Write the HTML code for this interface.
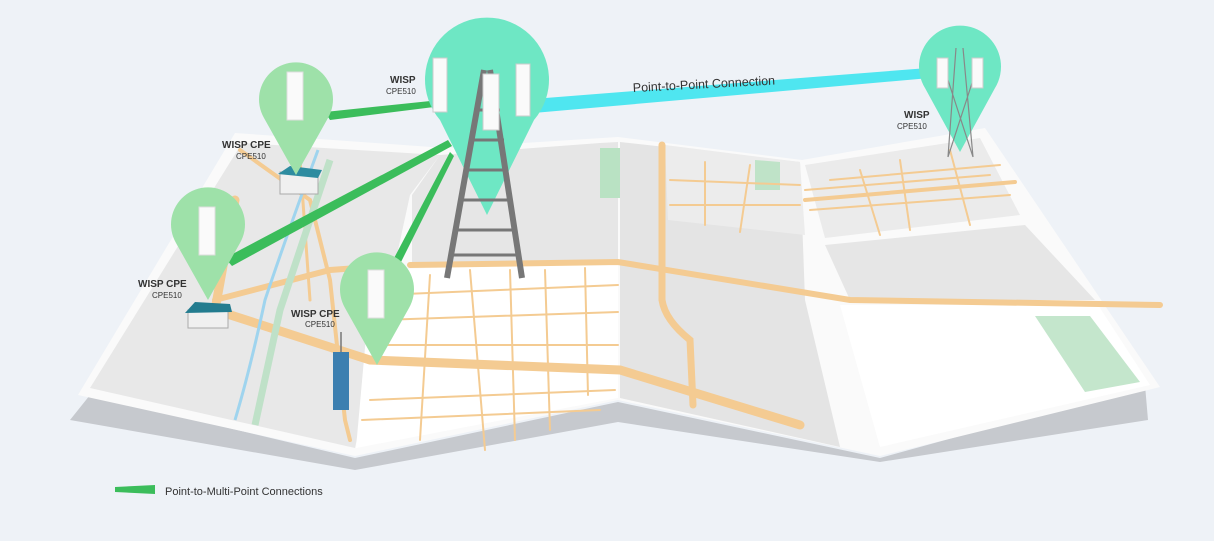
<!DOCTYPE html>
<html><head><meta charset="utf-8"><style>
html,body{margin:0;padding:0;background:#eef2f7;}
svg{display:block;font-family:"Liberation Sans",sans-serif;}
</style></head><body>
<svg width="1214" height="541" viewBox="0 0 1214 541" xmlns="http://www.w3.org/2000/svg">
<rect width="1214" height="541" fill="#eef2f7"/>
<!-- shadow -->
<polygon points="70,420 90,395 355,458 618,402 880,458 1145,385 1148,420 880,462 618,422 355,470" fill="#c6c9ce"/>
<!-- outer white map -->
<polygon points="78,395 235,133 445,148 618,137 802,160 985,128 1160,387 880,456 618,400 355,456" fill="#fafafa"/>
<!-- left panel gray -->
<polygon points="90,388 242,143 440,155 410,195 355,448" fill="#e8e8e8"/>
<!-- middle upper gray -->
<polygon points="412,195 440,155 600,143 618,142 618,262 412,262" fill="#e6e6e6"/>
<polygon points="600,148 650,148 650,198 600,198" fill="#b9e2c3"/>
<!-- middle lower white -->
<polygon points="372,270 618,262 618,398 356,448" fill="#ffffff"/>
<!-- center fold panel gray -->
<polygon points="620,142 800,162 805,300 840,447 620,398" fill="#e4e4e4"/>
<polygon points="665,145 800,162 805,235 668,220" fill="#ececec"/>
<polygon points="755,160 780,162 780,190 755,190" fill="#bfe3c8"/>
<!-- right upper -->
<polygon points="805,165 980,138 1020,215 825,238" fill="#ebebeb"/>
<polygon points="825,245 1025,225 1095,300 850,300" fill="#e6e6e6"/>
<!-- right bottom white -->
<polygon points="840,305 1098,305 1150,385 880,447" fill="#ffffff"/>
<polygon points="1035,316 1090,316 1140,382 1085,392" fill="#c4e6cc"/>
<!-- roads -->
<g fill="none" stroke="#f4cb92" stroke-linecap="round">
<path d="M235,200 L215,310 L370,360 L620,370 L800,425" stroke-width="9"/>
<path d="M240,150 L310,200 L330,280 L345,420 L350,440" stroke-width="4"/>
<path d="M300,160 L310,300" stroke-width="3"/>
<path d="M410,265 L618,262 L850,300 L1160,305" stroke-width="6"/>
<path d="M662,145 L662,300 Q665,320 690,340 L693,405" stroke-width="7"/>
<path d="M215,300 L330,270 L400,265" stroke-width="6"/>
<g stroke-width="2">
<path d="M380,295 L618,285 M380,320 L618,312 M370,345 L618,345 M370,400 L615,390 M362,420 L600,410"/>
<path d="M470,270 L485,450 M545,270 L550,430 M585,268 L588,395 M430,275 L420,440 M510,270 L515,440"/>
<path d="M670,180 L800,185 M670,205 L800,205 M705,162 L705,225 M750,165 L740,232 M805,190 L990,175 M810,210 L1010,195 M860,170 L880,235 M900,160 L910,230 M950,150 L970,225 M830,180 L1000,165"/>
</g>
<path d="M805,200 L1015,182" stroke-width="4"/>
</g>
<!-- river/green strips -->
<path d="M318,150 Q285,240 265,300 Q250,370 235,420" stroke="#9fd4ee" stroke-width="3" fill="none"/>
<path d="M330,160 Q300,250 280,310 Q265,380 255,425" stroke="#bfe1c8" stroke-width="7" fill="none"/>
<!-- buildings -->
<rect x="280" y="172" width="38" height="22" fill="#f0f0f0" stroke="#aaa" stroke-width="1"/>
<polygon points="278,174 290,166 322,170 318,178" fill="#2e8ca0"/>
<rect x="188" y="310" width="40" height="18" fill="#f0f0f0" stroke="#aaa"/>
<polygon points="185,313 195,302 230,304 232,312" fill="#237c8f"/>
<rect x="333" y="352" width="16" height="58" fill="#3c7fb0"/>
<line x1="341" y1="332" x2="341" y2="352" stroke="#777" stroke-width="1.5"/>
<!-- links -->
<polygon points="325,112 330,120 442,106 440,100" fill="#3bbd5b"/>
<polygon points="225,258 232,266 452,146 448,140" fill="#3bbd5b"/>
<polygon points="392,262 400,264 454,156 450,152" fill="#3bbd5b"/>
<polygon points="520,100 522,114 930,78 928,68" fill="#4fe6f0"/>
<!-- tower pin -->
<path d="M487,215 L440,120 A62,62 0 1 1 534,120 Z" fill="#6ee7c4"/>
<g stroke="#777" stroke-width="6" fill="none">
<path d="M447,278 L484,70 M522,278 L490,70"/>
</g>
<g stroke="#777" stroke-width="3"><path d="M455,230 H515 M460,200 H512 M465,170 H508 M470,140 H504 M474,110 H500 M452,255 H518"/></g>
<rect x="433" y="58" width="14" height="54" fill="#fafafa" stroke="#ccc"/>
<rect x="483" y="74" width="16" height="56" fill="#fafafa" stroke="#ccc"/>
<rect x="516" y="64" width="14" height="52" fill="#fafafa" stroke="#ccc"/>
<!-- small pins -->
<path d="M296,175 L264,118 A37,37 0 1 1 328,118 Z" fill="#9ee1a9"/>
<rect x="287" y="72" width="16" height="48" fill="#fafafa" stroke="#ddd"/>
<path d="M208,300 L176,243 A37,37 0 1 1 240,243 Z" fill="#9ee1a9"/>
<rect x="199" y="207" width="16" height="48" fill="#fafafa" stroke="#ddd"/>
<path d="M377,365 L345,308 A37,37 0 1 1 409,308 Z" fill="#9ee1a9"/>
<rect x="368" y="270" width="16" height="48" fill="#fafafa" stroke="#ddd"/>
<!-- right pin -->
<path d="M960,152 L925,88 A41,41 0 1 1 995,88 Z" fill="#6ee7c4"/>
<g stroke="#888" stroke-width="1.2"><path d="M948,157 L956,48 M973,157 L963,48 M948,157 L973,80 M973,157 L948,80"/></g>
<rect x="937" y="58" width="11" height="30" fill="#fafafa" stroke="#ccc"/>
<rect x="972" y="58" width="11" height="30" fill="#fafafa" stroke="#ccc"/>
<!-- labels -->
<g fill="#333">
<text x="390" y="83" font-size="10" font-weight="bold">WISP</text>
<text x="386" y="94" font-size="8">CPE510</text>
<text x="222" y="148" font-size="10" font-weight="bold">WISP CPE</text>
<text x="236" y="159" font-size="8">CPE510</text>
<text x="138" y="287" font-size="10" font-weight="bold">WISP CPE</text>
<text x="152" y="298" font-size="8">CPE510</text>
<text x="291" y="317" font-size="10" font-weight="bold">WISP CPE</text>
<text x="305" y="327" font-size="8">CPE510</text>
<text x="904" y="118" font-size="10" font-weight="bold">WISP</text>
<text x="897" y="129" font-size="8">CPE510</text>
<text x="633" y="92" font-size="12.5" transform="rotate(-3 633 92)">Point-to-Point Connection</text>
<text x="165" y="495" font-size="11">Point-to-Multi-Point Connections</text>
</g>
<polygon points="115,487 155,485 155,494 115,492" fill="#3bbd5b"/>
</svg>
</body></html>
